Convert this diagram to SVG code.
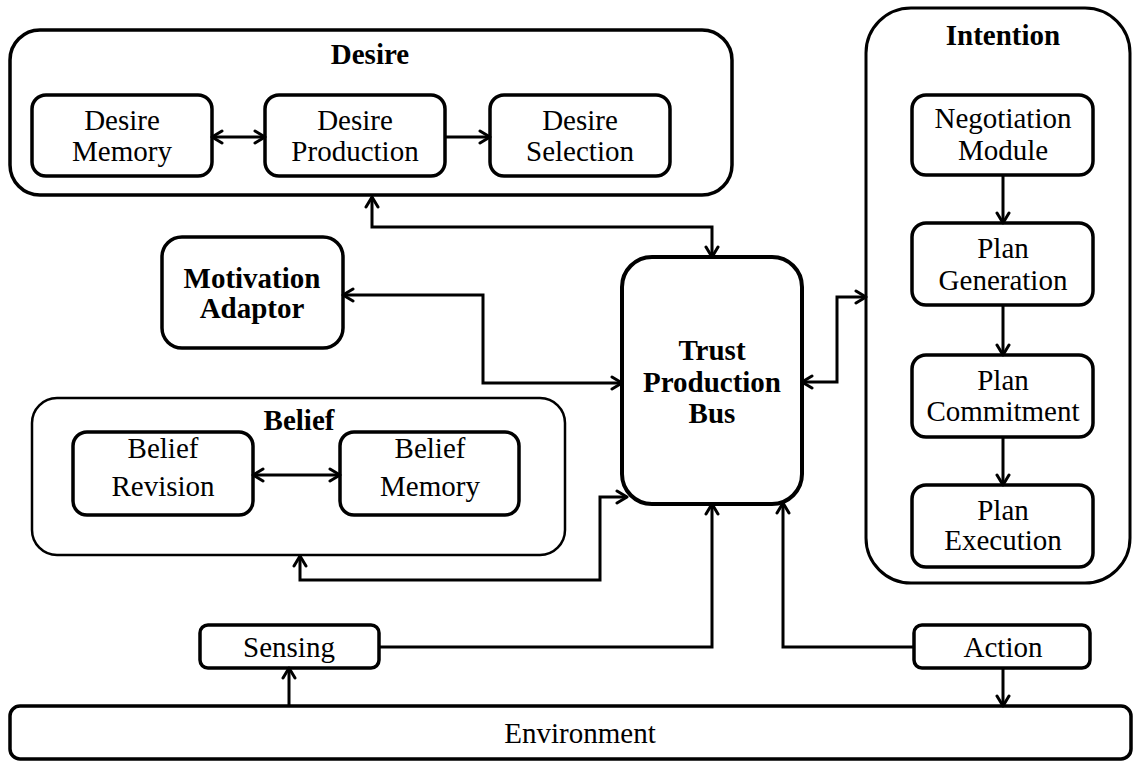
<svg xmlns="http://www.w3.org/2000/svg" width="1133" height="762" viewBox="0 0 1133 762">
  <style>
    .box { fill: #fff; stroke: #000; stroke-width: 3.5; }
    .group { fill: none; stroke: #000; stroke-width: 3.5; }
    .thin { fill: none; stroke: #000; stroke-width: 2.5; }
    text { font-family: 'Liberation Serif', 'DejaVu Serif', 'Times New Roman', serif; font-size: 29px; fill: #000; text-anchor: middle; }
    .ttl { font-weight: bold; }
    .wire { fill: none; stroke: #000; stroke-width: 3; }
  </style>
  <defs>
    <marker id="arrow" viewBox="0 0 14 16" refX="12" refY="8" markerWidth="14" markerHeight="16" markerUnits="userSpaceOnUse" orient="auto-start-reverse">
      <path d="M2,2 L12,8 L2,14" fill="none" stroke="#000" stroke-width="3" stroke-linecap="round" stroke-linejoin="round"/>
    </marker>
  </defs>

  <rect width="1133" height="762" fill="#fff"/>

  <!-- Desire group -->
  <g id="desire">
    <rect class="group" x="10" y="30" width="722" height="165" rx="30"/>
    <text class="ttl" x="370" y="64">Desire</text>
  </g>
  <g id="desire-memory">
    <rect class="box" x="32" y="95" width="180" height="81" rx="14"/>
    <text x="122" y="130">Desire</text>
    <text x="122" y="161">Memory</text>
  </g>
  <g id="desire-production">
    <rect class="box" x="265" y="95" width="180" height="81" rx="14"/>
    <text x="355" y="130">Desire</text>
    <text x="355" y="161">Production</text>
  </g>
  <g id="desire-selection">
    <rect class="box" x="490" y="95" width="180" height="81" rx="14"/>
    <text x="580" y="130">Desire</text>
    <text x="580" y="161">Selection</text>
  </g>

  <!-- Motivation adaptor -->
  <g id="motivation-adaptor">
    <rect class="box" x="162" y="237" width="181" height="111" rx="20"/>
    <text class="ttl" x="252" y="288">Motivation</text>
    <text class="ttl" x="252" y="318">Adaptor</text>
  </g>

  <!-- Belief group -->
  <g id="belief">
    <rect class="thin" x="32" y="398" width="533" height="157" rx="25"/>
    <text class="ttl" x="299" y="430">Belief</text>
  </g>
  <g id="belief-revision">
    <rect class="box" x="73" y="432" width="180" height="83" rx="14"/>
    <text x="163" y="458">Belief</text>
    <text x="163" y="496">Revision</text>
  </g>
  <g id="belief-memory">
    <rect class="box" x="340" y="432" width="179" height="83" rx="14"/>
    <text x="430" y="458">Belief</text>
    <text x="430" y="496">Memory</text>
  </g>

  <!-- Trust production bus -->
  <g id="trust-production-bus">
    <rect class="box" x="622" y="257" width="180" height="247" rx="30" style="stroke-width:4"/>
    <text class="ttl" x="712" y="360">Trust</text>
    <text class="ttl" x="712" y="392">Production</text>
    <text class="ttl" x="712" y="423">Bus</text>
  </g>

  <!-- Intention group -->
  <g id="intention">
    <rect class="group" x="866" y="8" width="264" height="575" rx="45" style="stroke-width:3"/>
    <text class="ttl" x="1003" y="45">Intention</text>
  </g>
  <g id="negotiation-module">
    <rect class="box" x="912" y="95" width="181" height="80" rx="14"/>
    <text x="1003" y="128">Negotiation</text>
    <text x="1003" y="160">Module</text>
  </g>
  <g id="plan-generation">
    <rect class="box" x="912" y="223" width="181" height="82" rx="14"/>
    <text x="1003" y="258">Plan</text>
    <text x="1003" y="290">Generation</text>
  </g>
  <g id="plan-commitment">
    <rect class="box" x="912" y="355" width="181" height="82" rx="14"/>
    <text x="1003" y="390">Plan</text>
    <text x="1003" y="421">Commitment</text>
  </g>
  <g id="plan-execution">
    <rect class="box" x="912" y="485" width="181" height="82" rx="14"/>
    <text x="1003" y="520">Plan</text>
    <text x="1003" y="550">Execution</text>
  </g>

  <!-- Sensing / Action / Environment -->
  <g id="sensing">
    <rect class="box" x="200" y="625" width="179" height="43" rx="8"/>
    <text x="289" y="657">Sensing</text>
  </g>
  <g id="action">
    <rect class="box" x="914" y="625" width="176" height="43" rx="8"/>
    <text x="1003" y="657">Action</text>
  </g>
  <g id="environment">
    <rect class="box" x="10" y="706" width="1121" height="53" rx="10"/>
    <text x="580" y="743">Environment</text>
  </g>

  <!-- Connectors -->
  <g id="connectors">
    <line class="wire" x1="212" y1="137" x2="265" y2="137" marker-start="url(#arrow)" marker-end="url(#arrow)"/>
    <line class="wire" x1="445" y1="137" x2="490" y2="137" marker-end="url(#arrow)"/>
    <path class="wire" d="M372,197 V227 H712 V257" marker-start="url(#arrow)" marker-end="url(#arrow)"/>
    <path class="wire" d="M343,295 H483 V383 H622" marker-start="url(#arrow)" marker-end="url(#arrow)"/>
    <line class="wire" x1="253" y1="475" x2="340" y2="475" marker-start="url(#arrow)" marker-end="url(#arrow)"/>
    <path class="wire" d="M300,556 V580 H600 V497 H627" marker-start="url(#arrow)" marker-end="url(#arrow)"/>
    <path class="wire" d="M802,382 H837 V297 H866" marker-start="url(#arrow)" marker-end="url(#arrow)"/>
    <line class="wire" x1="1003" y1="175" x2="1003" y2="223" marker-end="url(#arrow)"/>
    <line class="wire" x1="1003" y1="305" x2="1003" y2="355" marker-end="url(#arrow)"/>
    <line class="wire" x1="1003" y1="437" x2="1003" y2="485" marker-end="url(#arrow)"/>
    <path class="wire" d="M379,647 H712 V504" marker-end="url(#arrow)"/>
    <path class="wire" d="M914,647 H783 V503" marker-end="url(#arrow)"/>
    <line class="wire" x1="289" y1="706" x2="289" y2="668" marker-end="url(#arrow)"/>
    <line class="wire" x1="1003" y1="668" x2="1003" y2="706" marker-end="url(#arrow)"/>
  </g>
</svg>
